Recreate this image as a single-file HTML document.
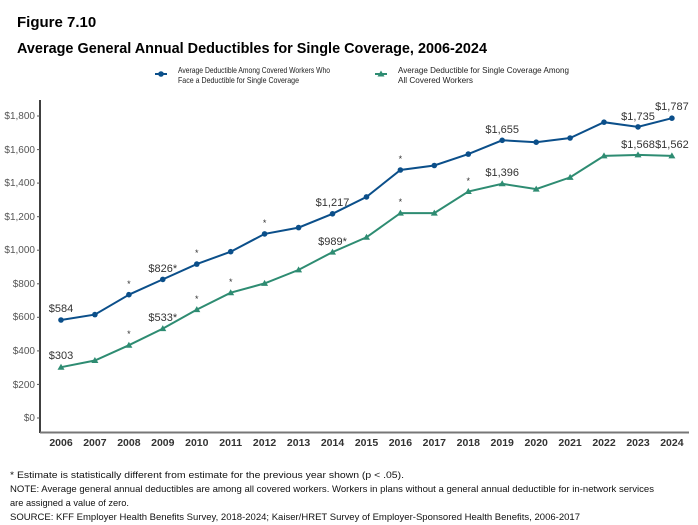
<!DOCTYPE html><html><head><style>body{margin:0;background:#fff}svg{display:block}text{font-family:"Liberation Sans",Arial,sans-serif}</style></head><body>
<svg width="698" height="525" viewBox="0 0 698 525">
<text x="17" y="27" font-size="15" font-weight="bold">Figure 7.10</text>
<text x="17" y="53" font-size="15" font-weight="bold" textLength="470" lengthAdjust="spacingAndGlyphs">Average General Annual Deductibles for Single Coverage, 2006-2024</text>
<g font-size="8.3" fill="#222">
<line x1="155" y1="74" x2="167" y2="74" stroke="#0b4f8a" stroke-width="2"/><circle cx="161" cy="74" r="2.8" fill="#0b4f8a"/>
<text x="178" y="73" textLength="152" lengthAdjust="spacingAndGlyphs">Average Deductible Among Covered Workers Who</text><text x="178" y="83" textLength="121" lengthAdjust="spacingAndGlyphs">Face a Deductible for Single Coverage</text>
<line x1="375" y1="74" x2="387" y2="74" stroke="#2e8c72" stroke-width="2"/><polygon points="381,70.5 384.5,76.5 377.5,76.5" fill="#2e8c72"/>
<text x="398" y="73" textLength="171" lengthAdjust="spacingAndGlyphs">Average Deductible for Single Coverage Among</text><text x="398" y="83" textLength="75" lengthAdjust="spacingAndGlyphs">All Covered Workers</text>
</g>
<g stroke="#000" stroke-width="1.5"><line x1="40" y1="100" x2="40" y2="433"/><line x1="40" y1="432.5" x2="689" y2="432.5" stroke="#777" stroke-width="2"/></g>
<g font-size="10" fill="#555" text-anchor="end">
<text x="35" y="421">$0</text><text x="35" y="388">$200</text><text x="35" y="354">$400</text><text x="35" y="320">$600</text><text x="35" y="287">$800</text><text x="35" y="253">$1,000</text><text x="35" y="220">$1,200</text><text x="35" y="186">$1,400</text><text x="35" y="153">$1,600</text><text x="35" y="119">$1,800</text>
</g>
<g stroke="#555"><line x1="37" y1="418" x2="40" y2="418"/><line x1="37" y1="384.4" x2="40" y2="384.4"/><line x1="37" y1="350.9" x2="40" y2="350.9"/><line x1="37" y1="317.3" x2="40" y2="317.3"/><line x1="37" y1="283.8" x2="40" y2="283.8"/><line x1="37" y1="250.2" x2="40" y2="250.2"/><line x1="37" y1="216.7" x2="40" y2="216.7"/><line x1="37" y1="183.1" x2="40" y2="183.1"/><line x1="37" y1="149.6" x2="40" y2="149.6"/><line x1="37" y1="116" x2="40" y2="116"/></g>
<g font-size="10.5" font-weight="bold" fill="#333" text-anchor="middle">
<text x="61" y="446">2006</text><text x="94.9" y="446">2007</text><text x="128.9" y="446">2008</text><text x="162.8" y="446">2009</text><text x="196.8" y="446">2010</text><text x="230.7" y="446">2011</text><text x="264.6" y="446">2012</text><text x="298.6" y="446">2013</text><text x="332.5" y="446">2014</text><text x="366.5" y="446">2015</text><text x="400.4" y="446">2016</text><text x="434.3" y="446">2017</text><text x="468.3" y="446">2018</text><text x="502.2" y="446">2019</text><text x="536.2" y="446">2020</text><text x="570.1" y="446">2021</text><text x="604" y="446">2022</text><text x="638" y="446">2023</text><text x="671.9" y="446">2024</text>
</g>
<polyline fill="none" stroke="#0b4f8a" stroke-width="2" points="61,320 94.9,314.6 128.9,294.7 162.8,279.4 196.8,264.1 230.7,251.7 264.6,233.9 298.6,227.6 332.5,213.8 366.5,196.9 400.4,170 434.3,165.5 468.3,154.1 502.2,140.3 536.2,142.2 570.1,138 604,122.2 638,126.9 671.9,118.2"/>
<g fill="#0b4f8a"><circle cx="61" cy="320" r="2.8"/><circle cx="94.9" cy="314.6" r="2.8"/><circle cx="128.9" cy="294.7" r="2.8"/><circle cx="162.8" cy="279.4" r="2.8"/><circle cx="196.8" cy="264.1" r="2.8"/><circle cx="230.7" cy="251.7" r="2.8"/><circle cx="264.6" cy="233.9" r="2.8"/><circle cx="298.6" cy="227.6" r="2.8"/><circle cx="332.5" cy="213.8" r="2.8"/><circle cx="366.5" cy="196.9" r="2.8"/><circle cx="400.4" cy="170" r="2.8"/><circle cx="434.3" cy="165.5" r="2.8"/><circle cx="468.3" cy="154.1" r="2.8"/><circle cx="502.2" cy="140.3" r="2.8"/><circle cx="536.2" cy="142.2" r="2.8"/><circle cx="570.1" cy="138" r="2.8"/><circle cx="604" cy="122.2" r="2.8"/><circle cx="638" cy="126.9" r="2.8"/><circle cx="671.9" cy="118.2" r="2.8"/></g>
<polyline fill="none" stroke="#2e8c72" stroke-width="2" points="61,367.2 94.9,360.5 128.9,345.2 162.8,328.6 196.8,309.6 230.7,292.7 264.6,283.4 298.6,269.9 332.5,252.1 366.5,237.3 400.4,213.1 434.3,213.1 468.3,191.5 502.2,183.8 536.2,189.1 570.1,177.4 604,155.9 638,154.9 671.9,155.9"/>
<g fill="#2e8c72">
<polygon points="61,363.7 64.5,369.7 57.5,369.7"/><polygon points="94.9,357 98.4,363 91.4,363"/><polygon points="128.9,341.7 132.4,347.7 125.4,347.7"/><polygon points="162.8,325.1 166.3,331.1 159.3,331.1"/><polygon points="196.8,306.1 200.3,312.1 193.3,312.1"/><polygon points="230.7,289.2 234.2,295.2 227.2,295.2"/><polygon points="264.6,279.9 268.1,285.9 261.1,285.9"/><polygon points="298.6,266.4 302.1,272.4 295.1,272.4"/><polygon points="332.5,248.6 336,254.6 329,254.6"/><polygon points="366.5,233.8 370,239.8 363,239.8"/><polygon points="400.4,209.6 403.9,215.6 396.9,215.6"/><polygon points="434.3,209.6 437.8,215.6 430.8,215.6"/><polygon points="468.3,188 471.8,194 464.8,194"/><polygon points="502.2,180.3 505.7,186.3 498.7,186.3"/><polygon points="536.2,185.6 539.7,191.6 532.7,191.6"/><polygon points="570.1,173.9 573.6,179.9 566.6,179.9"/><polygon points="604,152.4 607.5,158.4 600.5,158.4"/><polygon points="638,151.4 641.5,157.4 634.5,157.4"/><polygon points="671.9,152.4 675.4,158.4 668.4,158.4"/></g>
<g font-size="11" fill="#333" text-anchor="middle">
<text x="61" y="312">$584</text><text x="162.8" y="272">$826*</text><text x="332.5" y="206">$1,217</text><text x="502.2" y="133">$1,655</text><text x="638" y="120">$1,735</text><text x="671.9" y="110">$1,787</text>
<text x="61" y="359">$303</text><text x="162.8" y="321">$533*</text><text x="332.5" y="245">$989*</text><text x="502.2" y="176">$1,396</text><text x="638" y="148">$1,568</text><text x="671.9" y="148">$1,562</text>
</g>
<g font-size="9" fill="#333" text-anchor="middle">
<text x="128.9" y="287">*</text><text x="196.8" y="256">*</text><text x="264.6" y="226">*</text><text x="400.4" y="162">*</text>
<text x="128.9" y="337">*</text><text x="196.8" y="302">*</text><text x="230.7" y="285">*</text><text x="400.4" y="205">*</text><text x="468.3" y="184">*</text>
</g>
<g font-size="9.3" fill="#111">
<text x="10" y="478" textLength="394" lengthAdjust="spacingAndGlyphs">* Estimate is statistically different from estimate for the previous year shown (p &lt; .05).</text>
<text x="10" y="492" textLength="644" lengthAdjust="spacingAndGlyphs">NOTE: Average general annual deductibles are among all covered workers. Workers in plans without a general annual deductible for in-network services</text>
<text x="10" y="506" textLength="119" lengthAdjust="spacingAndGlyphs">are assigned a value of zero.</text>
<text x="10" y="520" textLength="570" lengthAdjust="spacingAndGlyphs">SOURCE: KFF Employer Health Benefits Survey, 2018-2024; Kaiser/HRET Survey of Employer-Sponsored Health Benefits, 2006-2017</text>
</g>
</svg></body></html>
